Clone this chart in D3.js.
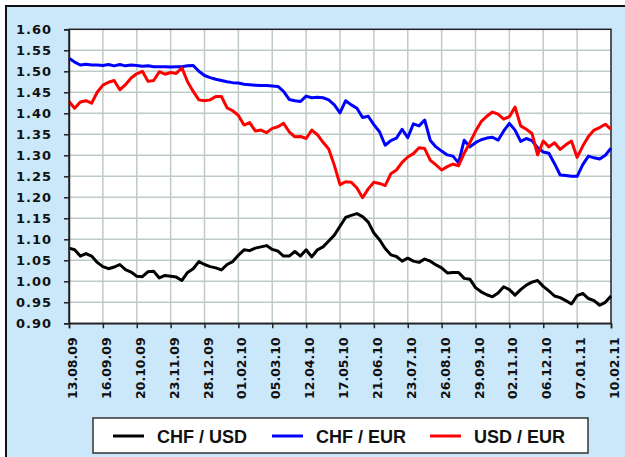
<!DOCTYPE html>
<html>
<head>
<meta charset="utf-8">
<script src="https://cdn.jsdelivr.net/npm/d3@7"></script>
<style>
  body { margin: 0; background: #fff; }
  svg { display: block; }
</style>
</head>
<body>
<div id="chart"></div>
<script>
// tick labels, one every 6 points
var tickLabels = ["13.08.09", "16.09.09", "20.10.09", "23.11.09", "28.12.09", "01.02.10",
    "05.03.10", "12.04.10", "17.05.10", "21.06.10", "23.07.10", "26.08.10",
    "29.09.10", "02.11.10", "06.12.10", "07.01.11", "10.02.11"];

var chfUsd = [1.079, 1.075, 1.060, 1.066, 1.060, 1.045, 1.035, 1.030, 1.034, 1.040, 1.028, 1.022,
    1.012, 1.011, 1.023, 1.024, 1.008, 1.014, 1.012, 1.010, 1.002, 1.021, 1.030, 1.047,
    1.040, 1.035, 1.032, 1.027, 1.040, 1.047, 1.062, 1.075, 1.073, 1.079, 1.082, 1.085,
    1.076, 1.072, 1.060, 1.060, 1.071, 1.060, 1.075, 1.058, 1.075, 1.082, 1.096, 1.110,
    1.131, 1.152, 1.157, 1.161, 1.154, 1.141, 1.115, 1.099, 1.078, 1.063, 1.059, 1.048,
    1.055, 1.048, 1.045, 1.053, 1.048, 1.039, 1.032, 1.020, 1.021, 1.021, 1.007, 1.005,
    0.985, 0.975, 0.968, 0.963, 0.972, 0.987, 0.980, 0.967, 0.980, 0.991, 0.998, 1.002,
    0.988, 0.977, 0.965, 0.961, 0.954, 0.946, 0.966, 0.971, 0.959, 0.954, 0.943, 0.950, 0.965];

var chfEur = [1.531, 1.522, 1.515, 1.517, 1.515, 1.515, 1.514, 1.516, 1.513, 1.516, 1.513, 1.515,
    1.514, 1.512, 1.513, 1.511, 1.511, 1.511, 1.510, 1.511, 1.511, 1.513, 1.514, 1.500,
    1.490, 1.485, 1.481, 1.478, 1.475, 1.473, 1.472, 1.469, 1.468, 1.467, 1.466, 1.466,
    1.465, 1.464, 1.452, 1.433, 1.430, 1.428, 1.441, 1.437, 1.438, 1.437, 1.432, 1.420,
    1.401, 1.430, 1.420, 1.412, 1.390, 1.393, 1.373, 1.356, 1.324, 1.335, 1.341, 1.362,
    1.342, 1.375, 1.370, 1.384, 1.335, 1.320, 1.310, 1.301, 1.298, 1.282, 1.336, 1.320,
    1.330, 1.337, 1.341, 1.343, 1.336, 1.358, 1.376, 1.360, 1.333, 1.340, 1.335, 1.318,
    1.308, 1.305, 1.280, 1.253, 1.252, 1.250, 1.250, 1.278, 1.298, 1.294, 1.291, 1.300, 1.317];

var usdEur = [1.428, 1.412, 1.427, 1.430, 1.424, 1.450, 1.467, 1.474, 1.478, 1.456, 1.468, 1.484,
    1.494, 1.500, 1.476, 1.478, 1.499, 1.493, 1.497, 1.495, 1.508, 1.475, 1.452, 1.432,
    1.430, 1.432, 1.440, 1.440, 1.413, 1.406, 1.395, 1.372, 1.378, 1.358, 1.360, 1.354,
    1.364, 1.368, 1.376, 1.356, 1.344, 1.345, 1.340, 1.360, 1.349, 1.331, 1.315, 1.276,
    1.230, 1.237, 1.236, 1.222, 1.199, 1.220, 1.236, 1.233, 1.228, 1.256, 1.265, 1.283,
    1.296, 1.304, 1.318, 1.316, 1.288, 1.277, 1.265, 1.273, 1.279, 1.275, 1.305, 1.330,
    1.357, 1.380, 1.393, 1.403, 1.398, 1.386, 1.392, 1.415, 1.370, 1.362, 1.352, 1.301,
    1.334, 1.320, 1.330, 1.314, 1.325, 1.334, 1.295, 1.322, 1.345, 1.360, 1.366, 1.374, 1.362];

var seriesNames = ["CHF / USD", "CHF / EUR", "USD / EUR"];
var seriesColors = ["#000000", "#0000ff", "#ff0000"];
var yTicks = [0.90, 0.95, 1.00, 1.05, 1.10, 1.15, 1.20, 1.25, 1.30, 1.35, 1.40, 1.45, 1.50, 1.55, 1.60];

(function() {
    var width = 625,
        height = 457;
    var left = 69, right = 611, top = 29.3, bottom = 323.3;

    var svg = d3.select("#chart")
        .append("svg")
        .attr("width", width)
        .attr("height", height);

    // outer light blue panel
    svg.append("rect")
        .attr("x", 6).attr("y", 6)
        .attr("width", 700).attr("height", 600)
        .attr("fill", "#cbe8fb")
        .attr("stroke", "#111")
        .attr("stroke-width", 2);

    var n = chfUsd.length;
    var x = d3.scaleLinear().domain([0, n - 1]).range([left, right]);
    var y = d3.scaleLinear().domain([0.9, 1.6]).range([bottom, top]);
    var xTicks = d3.range(0, n, 6);

    svg.append("rect")
        .attr("x", left).attr("y", top)
        .attr("width", right - left).attr("height", bottom - top)
        .attr("fill", "#fff");

    // grid
    svg.append("g").selectAll("line")
        .data(yTicks.slice(1, -1))
        .enter().append("line")
        .attr("x1", left).attr("x2", right)
        .attr("y1", function(d) { return y(d) })
        .attr("y2", function(d) { return y(d) })
        .attr("stroke", "#bfcbc7")
        .attr("stroke-width", 1.5);

    svg.append("g").selectAll("line")
        .data(xTicks.slice(1, -1))
        .enter().append("line")
        .attr("y1", top).attr("y2", bottom)
        .attr("x1", function(d) { return x(d) })
        .attr("x2", function(d) { return x(d) })
        .attr("stroke", "#bfcbc7")
        .attr("stroke-width", 1.5);

    // plot frame
    svg.append("rect")
        .attr("x", left).attr("y", top)
        .attr("width", right - left).attr("height", bottom - top)
        .attr("fill", "none")
        .attr("stroke", "#222")
        .attr("stroke-width", 1.5);

    // lines
    var line = d3.line()
        .x(function(d, i) { return x(i) })
        .y(function(d) { return y(d) });

    var allSeries = [chfUsd, chfEur, usdEur];
    svg.append("g").selectAll("path")
        .data(allSeries)
        .enter().append("path")
        .attr("d", line)
        .attr("fill", "none")
        .attr("stroke", function(d, i) { return seriesColors[i] })
        .attr("stroke-width", 3)
        .attr("stroke-linejoin", "round");

    // y axis
    var yAxis = svg.append("g")
        .attr("transform", "translate(" + left + ",0)")
        .call(d3.axisLeft(y).tickValues(yTicks).tickFormat(d3.format(".2f")).tickSize(5).tickPadding(12));
    yAxis.select(".domain").attr("stroke", "#222").attr("stroke-width", 1.5);
    yAxis.selectAll(".tick line").attr("stroke", "#222").attr("stroke-width", 1.5);
    yAxis.selectAll("text")
        .attr("font-family", "'DejaVu Sans', Verdana, sans-serif")
        .attr("font-weight", "bold")
        .attr("font-size", "13px")
        .attr("letter-spacing", "1px")
        .attr("fill", "#111");

    // x axis
    var xAxis = svg.append("g")
        .attr("transform", "translate(0," + bottom + ")")
        .call(d3.axisBottom(x).tickValues(xTicks)
            .tickFormat(function(d) { return tickLabels[d / 6] })
            .tickSize(5));
    xAxis.select(".domain").attr("stroke", "#222").attr("stroke-width", 1.5);
    xAxis.selectAll(".tick line").attr("stroke", "#222").attr("stroke-width", 1.5);
    xAxis.selectAll("text")
        .attr("transform", "rotate(-90)")
        .attr("text-anchor", "end")
        .attr("x", -14)
        .attr("y", 0)
        .attr("dy", "0.6em")
        .attr("font-family", "'DejaVu Sans', Verdana, sans-serif")
        .attr("font-weight", "bold")
        .attr("font-size", "12.5px")
        .attr("fill", "#111");

    // legend
    var legend = svg.append("g");
    legend.append("rect")
        .attr("x", 93).attr("y", 418)
        .attr("width", 495).attr("height", 35)
        .attr("fill", "#fff")
        .attr("stroke", "#333")
        .attr("stroke-width", 1.5);

    var legendX = [113, 272, 430];
    var items = legend.selectAll(".item")
        .data(seriesNames)
        .enter().append("g")
        .attr("class", "item")
        .attr("transform", function(d, i) { return "translate(" + legendX[i] + ",436)" });
    items.append("line")
        .attr("x1", 0).attr("x2", 31)
        .attr("stroke", function(d, i) { return seriesColors[i] })
        .attr("stroke-width", 3);
    items.append("text")
        .attr("x", 44)
        .attr("y", 7)
        .attr("font-family", "'Liberation Sans', Arial, sans-serif")
        .attr("font-weight", "bold")
        .attr("font-size", "18px")
        .attr("fill", "#111")
        .text(function(d) { return d });
})();
</script>
</body>
</html>
